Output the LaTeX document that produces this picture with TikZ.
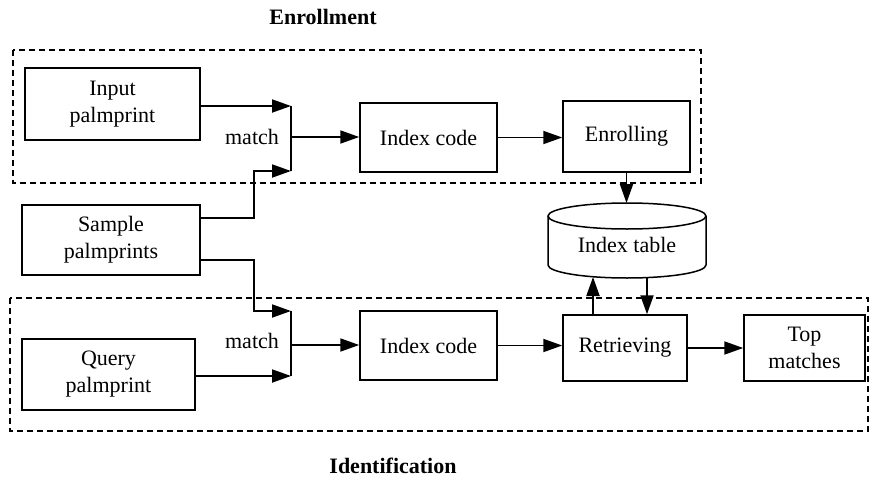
\documentclass[tikz,border=0pt]{standalone}
\usepackage{fontspec}
\setmainfont{Liberation Serif}
\usetikzlibrary{arrows.meta,calc}
\begin{document}
\begin{tikzpicture}[x=1pt,y=-1pt, line width=1.5pt,
 box/.style={draw, rectangle, align=center, inner sep=0pt, font=\fontsize{22}{27}\selectfont},
 lbl/.style={font=\fontsize{22}{27}\selectfont, inner sep=0pt},
 ttl/.style={font=\fontsize{22}{27}\selectfont\bfseries, inner sep=0pt},
 arr/.style={-{Triangle[length=19pt,width=13pt]}, line width=1.9pt},
 grp/.style={draw, line width=1.1pt, dash pattern=on 6pt off 4pt}]
\useasboundingbox (0,0) rectangle (876,479);
% group frames
\draw[grp] (13,50) rectangle (701,183);
\draw[grp] (10,298) rectangle (868,431);
\node[ttl] (t1) at (323,17) {Enrollment};
\node[ttl] (t2) at (393,466) {Identification};
% boxes
\node[box, minimum width=175pt, minimum height=72pt] (inp) at (112.5,104) {Input\\palmprint};
\node[box, minimum width=178pt, minimum height=70pt] (smp) at (111,240) {Sample\\palmprints};
\node[box, minimum width=173pt, minimum height=71pt] (qry) at (108.5,374.5) {Query\\palmprint};
\node[box, minimum width=137pt, minimum height=69pt] (ic1) at (428.5,137.5) {Index code};
\node[box, minimum width=127pt, minimum height=71pt] (enr) at (626.5,136.5) {Enrolling};
\node[box, minimum width=137pt, minimum height=69pt] (ic2) at (428.5,345.5) {Index code};
\node[box, minimum width=124pt, minimum height=66pt] (ret) at (625,348) {Retrieving};
\node[box, minimum width=121pt, minimum height=66pt] (top) at (804.5,348) {Top\\matches};
% cylinder
\draw (548,216) -- (548,265) arc[start angle=180, end angle=360, x radius=79, y radius=-13] -- (706,216);
\draw (627,216) ellipse[x radius=79, y radius=13];
\node[lbl] (tbl) at (627,245) {Index table};
\coordinate (tbltop) at (627,203);
\coordinate (u1) at (593,277);
\coordinate (d1) at (647,278);
% junctions
\coordinate (k1) at (254,0);
\coordinate (j1t) at (291,106);
\coordinate (j1m) at (291,137);
\coordinate (j1b) at (291,171);
\coordinate (j2t) at (291,311);
\coordinate (j2m) at (291,345);
\coordinate (j2b) at (291,376);
\node[lbl] (m1) at (252,137) {match};
\node[lbl] (m2) at (252,341) {match};
% enrollment connectors
\draw[arr] (inp.east |- j1t) -- (j1t);
\draw[arr] ([yshift=22pt]smp.east) -| (j1b -| k1) -- (j1b);
\draw[line width=1.9pt] (j1t) -- (j1b);
\draw[arr] (j1m) -- (ic1.west |- j1m);
\draw[arr] (ic1.east) -- (enr.west |- ic1.east);
\draw[arr] (enr.south) -- (enr.south |- tbltop);
% identification connectors
\draw[arr] ([yshift=-20pt]smp.east) -| (j2t -| k1) -- (j2t);
\draw[arr] (qry.east |- j2b) -- (j2b);
\draw[line width=1.9pt] (j2t) -- (j2b);
\draw[arr] (j2m) -- (ic2.west |- j2m);
\draw[arr] (ic2.east) -- (ret.west |- ic2.east);
\draw[arr] (ret.east) -- (top.west);
\draw[arr] (u1 |- ret.north) -- (u1);
\draw[arr] (d1) -- (d1 |- ret.north);
\end{tikzpicture}
\end{document}
